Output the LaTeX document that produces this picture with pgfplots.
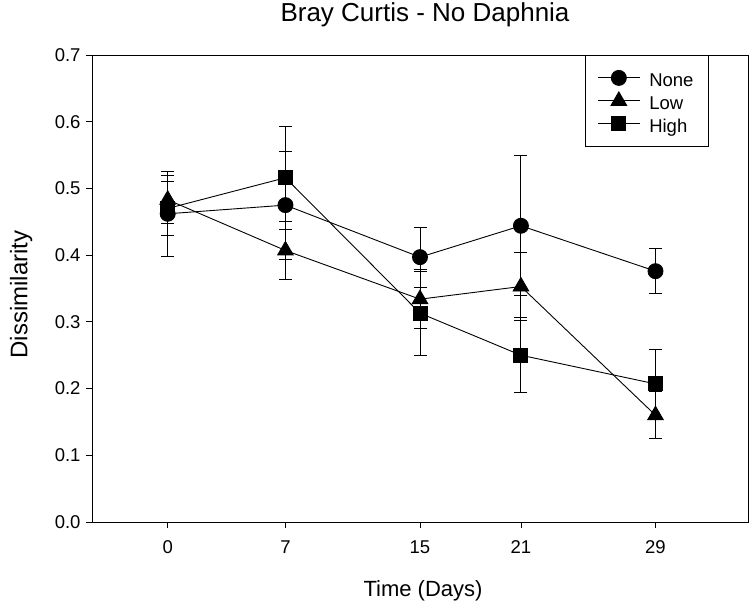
\documentclass[border=0pt]{standalone}
\usepackage{pgfplots}
\pgfplotsset{compat=1.18}
\usepackage{fontspec}
\setmainfont{Liberation Sans}
\begin{document}
\begin{tikzpicture}
\begin{axis}[
  at={(0bp,0bp)}, anchor=south west,
  scale only axis,
  width=656bp, height=467bp,
  xmin=-4.5, xmax=34.5, ymin=0, ymax=0.7,
  xtick={0,7,15,21,29},
  ytick={0,0.1,...,0.7},
  yticklabel style={/pgf/number format/fixed, /pgf/number format/fixed zerofill, /pgf/number format/precision=1, xshift=-2bp},
  /pgf/number format/assume math mode=true,
  tick align=outside,
  xtick pos=bottom, ytick pos=left,
  major tick length=6bp,
  tick style={black, line width=0.8bp},
  axis line style={line width=0.8bp},
  ticklabel style={font=\fontsize{18.5bp}{21bp}\selectfont},
  xticklabel style={yshift=-9bp},
  title={Bray Curtis - No Daphnia},
  title style={font=\fontsize{26bp}{29bp}\selectfont, at={(0.5,1)}, anchor=base, yshift=28bp, xshift=5bp},
  xlabel={Time (Days)},
  xlabel style={font=\fontsize{22bp}{25bp}\selectfont, at={(0.5,0)}, anchor=base, yshift=-74bp, xshift=3bp},
  ylabel={Dissimilarity},
  ylabel style={font=\fontsize{24bp}{27bp}\selectfont, at={(0,0.5)}, anchor=base, yshift=64.5bp, xshift=-6bp},
  legend style={at={(0.7515,1)}, anchor=north west, draw=black, line width=0.8bp,
    font=\fontsize{18.5bp}{21bp}\selectfont, row sep=0bp, inner xsep=12bp, inner ysep=11bp,
    nodes={text height=17bp, text depth=0bp, inner sep=3bp},
    /tikz/every odd column/.append style={column sep=6bp},
    cells={anchor=west}},
  legend cell align=left,
  legend image code/.code={\draw[mark repeat=2, mark phase=2, #1] plot coordinates {(0bp,0bp) (21bp,0bp) (42bp,0bp)};},
  every axis plot/.append style={black, line width=0.9bp},
  error bars/y dir=both, error bars/y explicit,
  error bars/error mark options={rotate=90, mark size=6.5bp, line width=0.9bp},
  error bars/error bar style={line width=0.9bp},
]
\addplot[mark=*, mark size=7.5bp] table[x=t, y=m, y error=e] {
t m e
0 0.462 0.064
7 0.475 0.081
15 0.397 0.045
21 0.444 0.105
29 0.376 0.034
};
\addlegendentry{None}
\addplot[mark=triangle*, mark size=9bp] table[x=t, y=m, y error=e] {
t m e
0 0.483 0.036
7 0.407 0.044
15 0.334 0.044
21 0.353 0.051
29 0.160 0.035
};
\addlegendentry{Low}
\addplot[mark=square*, mark size=7bp] table[x=t, y=m, y error=e] {
t m e
0 0.470 0.041
7 0.516 0.077
15 0.313 0.063
21 0.250 0.056
29 0.207 0.051
};
\addlegendentry{High}
\end{axis}
\pgfresetboundingbox
\path[use as bounding box] (-92bp,-84bp) rectangle (657bp,522bp);
\end{tikzpicture}
\end{document}
